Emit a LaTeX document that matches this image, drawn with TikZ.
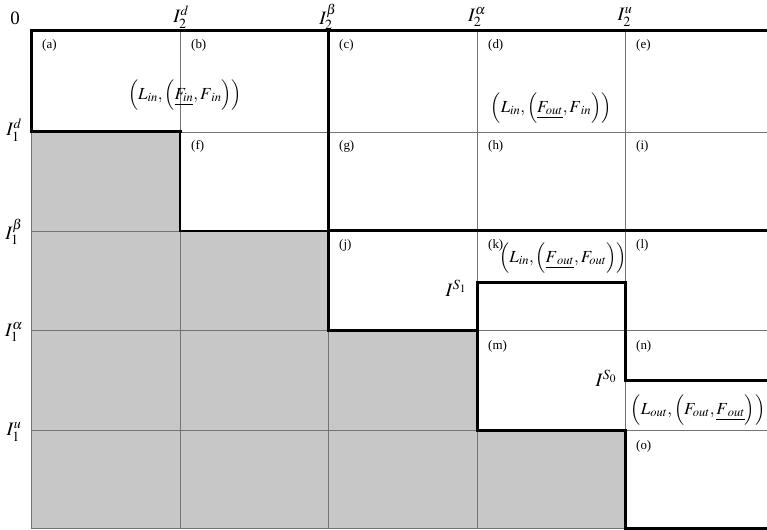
\documentclass[tikz,border=0pt]{standalone}
\usepackage{mathptmx}
\usepackage{fontspec}
\setmainfont{Liberation Serif}
\begin{document}
\begin{tikzpicture}[x=1bp,y=-1bp,
  gridline/.style={draw=black!55,line width=0.6bp},
  thickline/.style={draw=black,line width=3bp,line cap=rect,line join=miter},
  midline/.style={draw=black,line width=1.4bp},
  shade/.style={fill=black!22,draw=none},
  axlab/.style={inner sep=0pt,font=\fontsize{19}{21}\selectfont},
  celllab/.style={anchor=north west,inner sep=0pt,font=\fontsize{13}{14}\selectfont},
  formula/.style={inner sep=0pt,font=\fontsize{17}{19}\selectfont}]
\useasboundingbox (0,0) rectangle (767,530);
\fill[white] (0,0) rectangle (767,530);
% shaded staircase region
\fill[shade] (31,132) -- (180,132) -- (180,231) -- (328,231) -- (328,330) -- (477,330) -- (477,430) -- (625,430) -- (625,528) -- (31,528) -- cycle;
% grid
\foreach \x in {180,328,477,625} \draw[gridline] (\x,31) -- (\x,528);
\foreach \y in {132,231,330,430} \draw[gridline] (31,\y) -- (767,\y);
\draw[gridline] (31,132) -- (31,528);
\draw[gridline] (31,528) -- (625,528);
% medium box (f)
\draw[midline] (180,132) -- (180,231) -- (328,231);
% thick boundaries
\draw[thickline] (31,132) -- (31,31) -- (767,31);
\draw[thickline] (31,132) -- (180,132);
\draw[thickline] (328,31) -- (328,330) -- (477,330);
\draw[thickline] (328,231) -- (767,231);
\draw[thickline] (477,430) -- (477,282) -- (625,282) -- (625,380) -- (767,380);
\draw[thickline] (477,430) -- (625,430) -- (625,528) -- (767,528);
% axis labels
\node[axlab] (o) at (15,18) {0};
\node[axlab] (x1) at (181,17) {$I_2^d$};
\node[axlab] (x2) at (328,17) {$I_2^\beta$};
\node[axlab] (x3) at (477,17) {$I_2^\alpha$};
\node[axlab] (x4) at (625,17) {$I_2^u$};
\node[axlab] (y1) at (14,130) {$I_1^d$};
\node[axlab] (y2) at (14,232) {$I_1^\beta$};
\node[axlab] (y3) at (14,332) {$I_1^\alpha$};
\node[axlab] (y4) at (14,432) {$I_1^u$};
% cell labels
\node[celllab] (ca) at (42,39) {(a)};
\node[celllab] (cb) at (191,39) {(b)};
\node[celllab] (cc) at (339,39) {(c)};
\node[celllab] (cd) at (488,39) {(d)};
\node[celllab] (ce) at (636,39) {(e)};
\node[celllab] (cf) at (191,140) {(f)};
\node[celllab] (cg) at (339,140) {(g)};
\node[celllab] (ch) at (488,140) {(h)};
\node[celllab] (ci) at (636,140) {(i)};
\node[celllab] (cj) at (339,239) {(j)};
\node[celllab] (ck) at (488,239) {(k)};
\node[celllab] (cl) at (636,239) {(l)};
\node[celllab] (cm) at (488,340) {(m)};
\node[celllab] (cn) at (636,340) {(n)};
\node[celllab] (co) at (636,440) {(o)};
% formulas
\node[formula] (f1) at (185,95) {$\Bigl(L_{in},\Bigl(\underline{F_{in}},F_{\;in}\Bigr)\Bigr)$};
\node[formula] (f2) at (551,108) {$\Bigl(L_{in},\Bigl(\underline{F_{out}},F_{\;in}\Bigr)\Bigr)$};
\node[formula] (f3) at (563,258) {$\Bigl(L_{in},\Bigl(\underline{F_{\;out}},F_{out}\Bigr)\Bigr)$};
\node[formula] (f4) at (698,410) {$\Bigl(L_{out},\Bigl(F_{out},\underline{F_{\;out}}\Bigr)\Bigr)$};
\node[axlab] (s1) at (456,288) {$I^{S_1}$};
\node[axlab] (s0) at (606,378) {$I^{S_0}$};
\end{tikzpicture}
\end{document}
